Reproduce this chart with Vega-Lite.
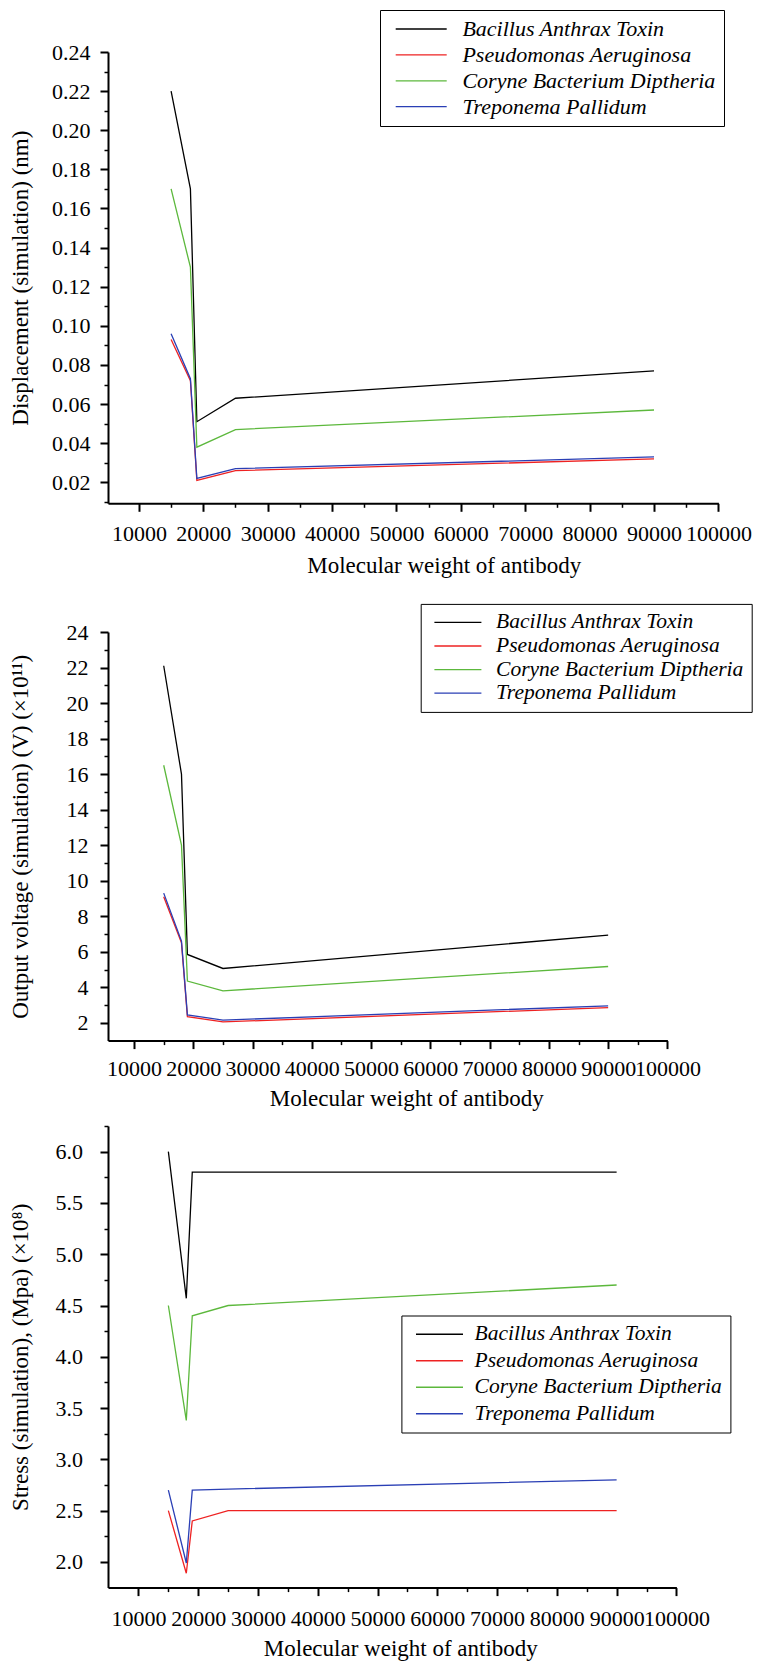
{
  "$schema": "https://vega.github.io/schema/vega-lite/v6.json",
  "padding": {"left": 9, "top": 9, "right": 5, "bottom": 0},
  "config": {
    "font": "Liberation Serif",
    "view": {"stroke": null},
    "axis": {
      "grid": false,
      "domainColor": "#000000",
      "domainWidth": 2,
      "tickColor": "#000000",
      "labelColor": "#000000",
      "titleColor": "#000000",
      "labelFont": "Liberation Serif",
      "titleFont": "Liberation Serif",
      "labelFontSize": 22,
      "titleFontSize": 23,
      "titleFontWeight": "normal",
      "labelOverlap": false,
      "labelFlush": false,
      "labelBound": false
    },
    "legend": {
      "orient": "none",
      "symbolType": "stroke",
      "symbolStrokeWidth": 1.8,
      "labelFont": "Liberation Serif",
      "labelFontStyle": "italic",
      "labelColor": "#000000",
      "labelLimit": 1000,
      "strokeColor": "#000000",
      "fillColor": "#ffffff",
      "padding": 8
    },
    "line": {"strokeWidth": 1.3}
  },
  "datasets": {
    "disp": [
      {"mw": 15000, "v": 0.220, "s": "Bacillus Anthrax Toxin"},
      {"mw": 18000, "v": 0.170, "s": "Bacillus Anthrax Toxin"},
      {"mw": 19000, "v": 0.051, "s": "Bacillus Anthrax Toxin"},
      {"mw": 25000, "v": 0.063, "s": "Bacillus Anthrax Toxin"},
      {"mw": 90000, "v": 0.077, "s": "Bacillus Anthrax Toxin"},
      {"mw": 15000, "v": 0.093, "s": "Pseudomonas Aeruginosa"},
      {"mw": 18000, "v": 0.072, "s": "Pseudomonas Aeruginosa"},
      {"mw": 19000, "v": 0.021, "s": "Pseudomonas Aeruginosa"},
      {"mw": 25000, "v": 0.026, "s": "Pseudomonas Aeruginosa"},
      {"mw": 90000, "v": 0.032, "s": "Pseudomonas Aeruginosa"},
      {"mw": 15000, "v": 0.170, "s": "Coryne Bacterium Diptheria"},
      {"mw": 18000, "v": 0.130, "s": "Coryne Bacterium Diptheria"},
      {"mw": 19000, "v": 0.038, "s": "Coryne Bacterium Diptheria"},
      {"mw": 25000, "v": 0.047, "s": "Coryne Bacterium Diptheria"},
      {"mw": 90000, "v": 0.057, "s": "Coryne Bacterium Diptheria"},
      {"mw": 15000, "v": 0.096, "s": "Treponema Pallidum"},
      {"mw": 18000, "v": 0.073, "s": "Treponema Pallidum"},
      {"mw": 19000, "v": 0.022, "s": "Treponema Pallidum"},
      {"mw": 25000, "v": 0.027, "s": "Treponema Pallidum"},
      {"mw": 90000, "v": 0.033, "s": "Treponema Pallidum"}
    ],
    "volt": [
      {"mw": 15000, "v": 22.1, "s": "Bacillus Anthrax Toxin"},
      {"mw": 18000, "v": 16.0, "s": "Bacillus Anthrax Toxin"},
      {"mw": 19000, "v": 5.85, "s": "Bacillus Anthrax Toxin"},
      {"mw": 25000, "v": 5.06, "s": "Bacillus Anthrax Toxin"},
      {"mw": 90000, "v": 6.94, "s": "Bacillus Anthrax Toxin"},
      {"mw": 15000, "v": 9.1, "s": "Pseudomonas Aeruginosa"},
      {"mw": 18000, "v": 6.5, "s": "Pseudomonas Aeruginosa"},
      {"mw": 19000, "v": 2.35, "s": "Pseudomonas Aeruginosa"},
      {"mw": 25000, "v": 2.05, "s": "Pseudomonas Aeruginosa"},
      {"mw": 90000, "v": 2.86, "s": "Pseudomonas Aeruginosa"},
      {"mw": 15000, "v": 16.5, "s": "Coryne Bacterium Diptheria"},
      {"mw": 18000, "v": 12.0, "s": "Coryne Bacterium Diptheria"},
      {"mw": 19000, "v": 4.35, "s": "Coryne Bacterium Diptheria"},
      {"mw": 25000, "v": 3.8, "s": "Coryne Bacterium Diptheria"},
      {"mw": 90000, "v": 5.17, "s": "Coryne Bacterium Diptheria"},
      {"mw": 15000, "v": 9.3, "s": "Treponema Pallidum"},
      {"mw": 18000, "v": 6.6, "s": "Treponema Pallidum"},
      {"mw": 19000, "v": 2.45, "s": "Treponema Pallidum"},
      {"mw": 25000, "v": 2.15, "s": "Treponema Pallidum"},
      {"mw": 90000, "v": 2.96, "s": "Treponema Pallidum"}
    ],
    "stress": [
      {"mw": 15000, "v": 6.0, "s": "Bacillus Anthrax Toxin"},
      {"mw": 18000, "v": 4.57, "s": "Bacillus Anthrax Toxin"},
      {"mw": 19000, "v": 5.8, "s": "Bacillus Anthrax Toxin"},
      {"mw": 25000, "v": 5.8, "s": "Bacillus Anthrax Toxin"},
      {"mw": 90000, "v": 5.8, "s": "Bacillus Anthrax Toxin"},
      {"mw": 15000, "v": 2.5, "s": "Pseudomonas Aeruginosa"},
      {"mw": 18000, "v": 1.89, "s": "Pseudomonas Aeruginosa"},
      {"mw": 19000, "v": 2.4, "s": "Pseudomonas Aeruginosa"},
      {"mw": 25000, "v": 2.5, "s": "Pseudomonas Aeruginosa"},
      {"mw": 90000, "v": 2.5, "s": "Pseudomonas Aeruginosa"},
      {"mw": 15000, "v": 4.5, "s": "Coryne Bacterium Diptheria"},
      {"mw": 18000, "v": 3.38, "s": "Coryne Bacterium Diptheria"},
      {"mw": 19000, "v": 4.4, "s": "Coryne Bacterium Diptheria"},
      {"mw": 25000, "v": 4.5, "s": "Coryne Bacterium Diptheria"},
      {"mw": 90000, "v": 4.7, "s": "Coryne Bacterium Diptheria"},
      {"mw": 15000, "v": 2.7, "s": "Treponema Pallidum"},
      {"mw": 18000, "v": 1.99, "s": "Treponema Pallidum"},
      {"mw": 19000, "v": 2.7, "s": "Treponema Pallidum"},
      {"mw": 25000, "v": 2.71, "s": "Treponema Pallidum"},
      {"mw": 90000, "v": 2.8, "s": "Treponema Pallidum"}
    ]
  },
  "spacing": 4,
  "resolve": {"scale": {"color": "independent"}, "legend": {"color": "independent"}},
  "vconcat": [
    {
      "spacing": 25,
      "resolve": {"scale": {"color": "independent"}, "legend": {"color": "independent"}},
      "vconcat": [
        {
          "width": 610.4,
          "height": 451.3,
          "data": {"name": "disp"},
          "mark": {"type": "line"},
          "encoding": {
            "x": {
              "field": "mw", "type": "quantitative",
              "scale": {"domain": [5200, 100000], "nice": false, "zero": false},
              "axis": {
                "title": "Molecular weight of antibody",
                "values": [10000,15000,20000,25000,30000,35000,40000,45000,50000,55000,60000,65000,70000,75000,80000,85000,90000,95000,100000],
                "format": "d",
                "labelFont": "Liberation Serif",
                "labelExpr": "datum.value % 10000 === 0 ? datum.label : ''",
                "tickSize": {"condition": {"test": "datum.value % 10000 === 0", "value": 8}, "value": 4},
                "tickWidth": {"condition": {"test": "datum.value % 10000 === 0", "value": 2}, "value": 1.5},
                "labelPadding": 12.6,
                "titleX": 335.7,
                "titleY": 50.9,
                "titleAlign": "center",
                "titleBaseline": "top"
              }
            },
            "y": {
              "field": "v", "type": "quantitative",
              "scale": {"domain": [0.0093, 0.24], "nice": false, "zero": false},
              "axis": {
                "title": "Displacement (simulation) (nm)",
                "values": [0.01,0.02,0.03,0.04,0.05,0.06,0.07,0.08,0.09,0.10,0.11,0.12,0.13,0.14,0.15,0.16,0.17,0.18,0.19,0.20,0.21,0.22,0.23,0.24],
                "format": ".2f",
                "labelFont": "Liberation Serif",
                "labelExpr": "round(datum.value*100) % 2 === 0 ? datum.label : ''",
                "tickSize": {"condition": {"test": "round(datum.value*100) % 2 === 0", "value": 8}, "value": 4},
                "tickWidth": {"condition": {"test": "round(datum.value*100) % 2 === 0", "value": 2}, "value": 1.5},
                "labelPadding": 10,
                "titlePadding": 19.1
              }
            },
            "color": {
              "field": "s", "type": "nominal",
              "scale": {
                "domain": ["Bacillus Anthrax Toxin", "Pseudomonas Aeruginosa", "Coryne Bacterium Diptheria", "Treponema Pallidum"],
                "range": ["#000000", "#ee2222", "#5cb83c", "#2a3fb5"]
              },
              "legend": {
                "title": null,
                "legendX": 272,
                "legendY": -42,
                "labelFontSize": 22,
                "symbolSize": 2601,
                "symbolOffset": 6.7,
                "clipHeight": 22,
                "rowPadding": 3.9,
                "labelOffset": 14.7
              }
            }
          }
        },
        {
          "width": 559.4,
          "height": 408.6,
          "data": {"name": "volt"},
          "mark": {"type": "line"},
          "encoding": {
            "x": {
              "field": "mw", "type": "quantitative",
              "scale": {"domain": [5600, 100000], "nice": false, "zero": false},
              "axis": {
                "title": "Molecular weight of antibody",
                "values": [10000,15000,20000,25000,30000,35000,40000,45000,50000,55000,60000,65000,70000,75000,80000,85000,90000,95000,100000],
                "format": "d",
                "labelFont": "Liberation Serif",
                "labelExpr": "datum.value % 10000 === 0 ? datum.label : ''",
                "tickSize": {"condition": {"test": "datum.value % 10000 === 0", "value": 8}, "value": 4},
                "tickWidth": {"condition": {"test": "datum.value % 10000 === 0", "value": 2}, "value": 1.5},
                "labelPadding": 9.5,
                "titleX": 298.2,
                "titleY": 47,
                "titleAlign": "center",
                "titleBaseline": "top"
              }
            },
            "y": {
              "field": "v", "type": "quantitative",
              "scale": {"domain": [1, 24], "nice": false, "zero": false},
              "axis": {
                "title": "Output voltage (simulation) (V) (×10¹¹)",
                "values": [2,3,4,5,6,7,8,9,10,11,12,13,14,15,16,17,18,19,20,21,22,23,24],
                "format": "d",
                "labelFont": "Liberation Serif",
                "labelExpr": "datum.value % 2 === 0 ? datum.label : ''",
                "tickSize": {"condition": {"test": "datum.value % 2 === 0", "value": 8}, "value": 4},
                "tickWidth": {"condition": {"test": "datum.value % 2 === 0", "value": 2}, "value": 1.5},
                "labelPadding": 12,
                "titlePadding": 33.6
              }
            },
            "color": {
              "field": "s", "type": "nominal",
              "scale": {
                "domain": ["Bacillus Anthrax Toxin", "Pseudomonas Aeruginosa", "Coryne Bacterium Diptheria", "Treponema Pallidum"],
                "range": ["#000000", "#ee2222", "#5cb83c", "#2a3fb5"]
              },
              "legend": {
                "title": null,
                "legendX": 312.7,
                "legendY": -28.1,
                "labelFontSize": 21.5,
                "symbolSize": 2209,
                "symbolOffset": 4.7,
                "clipHeight": 21,
                "rowPadding": 1.6,
                "labelOffset": 13.7
              }
            }
          }
        }
      ]
    },
    {
      "spacing": 0,
      "resolve": {"scale": {"color": "independent"}, "legend": {"color": "independent"}},
      "vconcat": [
        {
          "width": 568.4,
          "height": 461.6,
          "data": {"name": "stress"},
          "mark": {"type": "line"},
          "encoding": {
            "x": {
              "field": "mw", "type": "quantitative",
              "scale": {"domain": [4900, 100000], "nice": false, "zero": false},
              "axis": {
                "title": "Molecular weight of antibody",
                "values": [10000,15000,20000,25000,30000,35000,40000,45000,50000,55000,60000,65000,70000,75000,80000,85000,90000,95000,100000],
                "format": "d",
                "labelFont": "Liberation Serif",
                "labelExpr": "datum.value % 10000 === 0 ? datum.label : ''",
                "tickSize": {"condition": {"test": "datum.value % 10000 === 0", "value": 8}, "value": 4},
                "tickWidth": {"condition": {"test": "datum.value % 10000 === 0", "value": 2}, "value": 1.5},
                "labelPadding": 13,
                "titleX": 292.3,
                "titleY": 50.2,
                "titleAlign": "center",
                "titleBaseline": "top"
              }
            },
            "y": {
              "field": "v", "type": "quantitative",
              "scale": {"domain": [1.75, 6.25], "nice": false, "zero": false},
              "axis": {
                "title": "Stress (simulation), (Mpa) (×10⁸)",
                "values": [2,2.25,2.5,2.75,3,3.25,3.5,3.75,4,4.25,4.5,4.75,5,5.25,5.5,5.75,6,6.25],
                "format": ".1f",
                "labelFont": "Liberation Serif",
                "labelExpr": "round(datum.value*4) % 2 === 0 ? datum.label : ''",
                "tickSize": {"condition": {"test": "round(datum.value*4) % 2 === 0", "value": 8}, "value": 4},
                "tickWidth": {"condition": {"test": "round(datum.value*4) % 2 === 0", "value": 2}, "value": 1.5},
                "labelPadding": 17.6,
                "titlePadding": 22.5
              }
            },
            "color": {
              "field": "s", "type": "nominal",
              "scale": {
                "domain": ["Bacillus Anthrax Toxin", "Pseudomonas Aeruginosa", "Coryne Bacterium Diptheria", "Treponema Pallidum"],
                "range": ["#000000", "#ee2222", "#5cb83c", "#2a3fb5"]
              },
              "legend": {
                "title": null,
                "legendX": 293.4,
                "legendY": 189.5,
                "labelFontSize": 21.5,
                "symbolSize": 2209,
                "symbolOffset": 5.6,
                "clipHeight": 21.5,
                "rowPadding": 3.5,
                "labelOffset": 10.6
              }
            }
          }
        }
      ]
    }
  ]
}
